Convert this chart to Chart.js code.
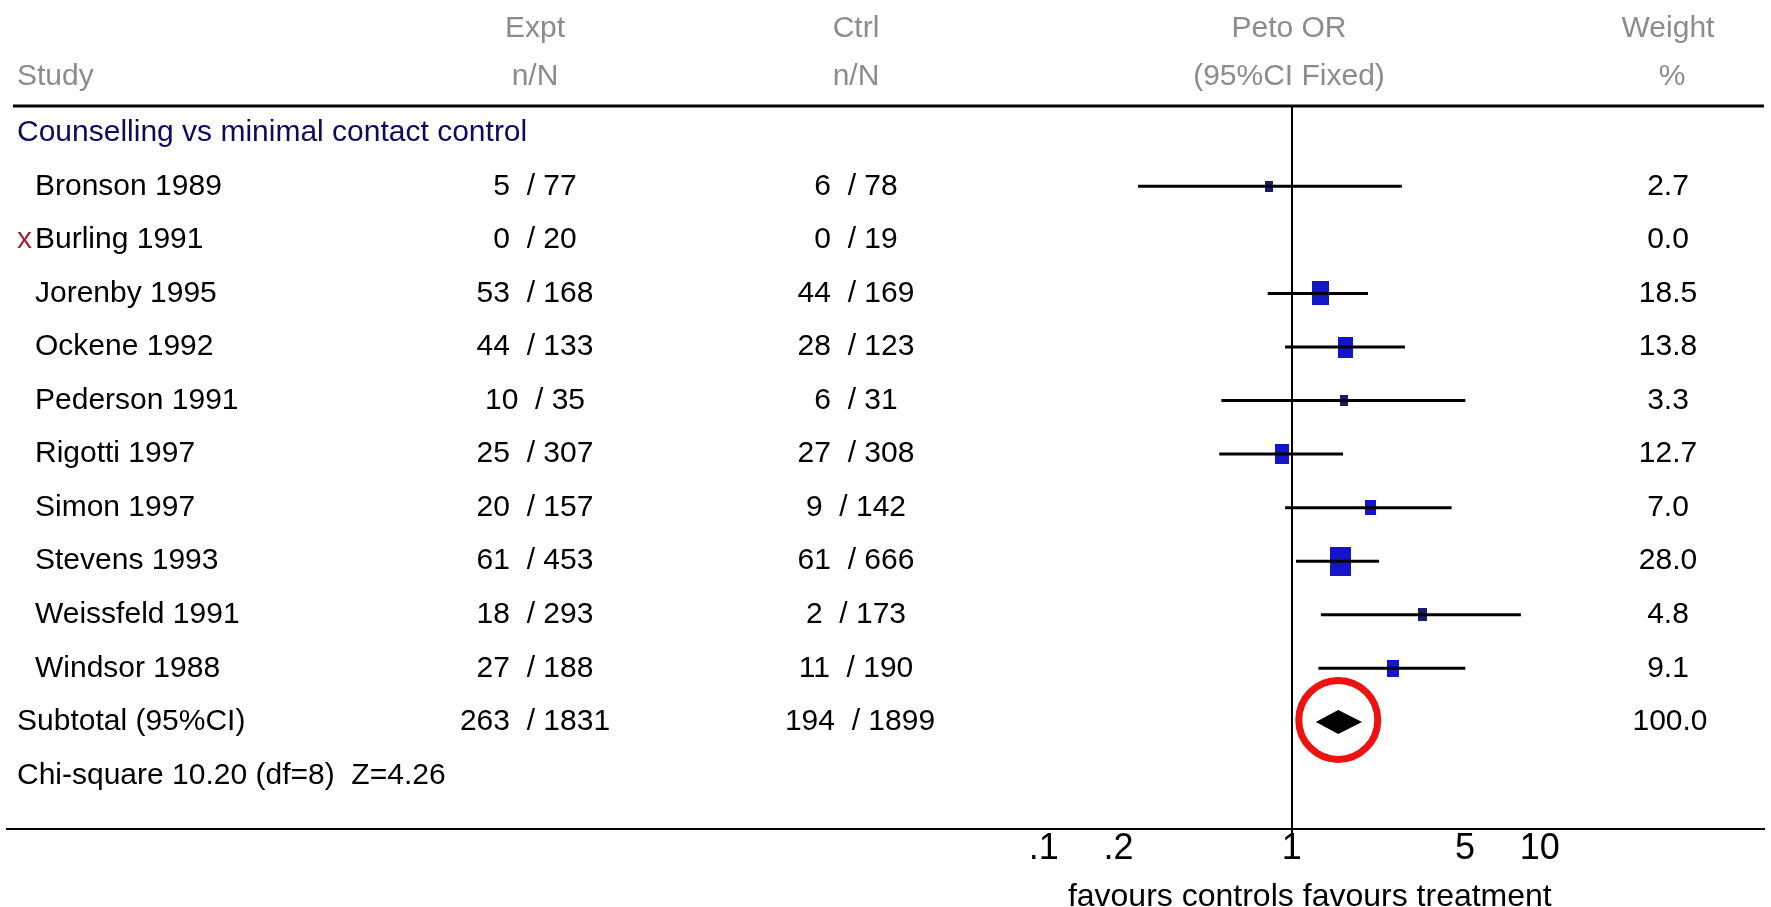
<!DOCTYPE html>
<html lang="en">
<head>
<meta charset="utf-8">
<title>Counselling vs minimal contact control</title>
<script src="https://cdn.jsdelivr.net/npm/chart.js@4.4.1/dist/chart.umd.min.js"></script>
<style>
  html, body { margin: 0; padding: 0; background: #fff; }
  #forestChart { display: block; }
</style>
</head>
<body>
<canvas id="forestChart" width="1771" height="907"></canvas>
<script>
// Données
const groupTitle = "Counselling vs minimal contact control";
const studies = ["Bronson 1989", "Burling 1991", "Jorenby 1995", "Ockene 1992", "Pederson 1991",
  "Rigotti 1997", "Simon 1997", "Stevens 1993", "Weissfeld 1991", "Windsor 1988"];
const excluded = [false, true, false, false, false, false, false, false, false, false];
const exptEvents = [5, 0, 53, 44, 10, 25, 20, 61, 18, 27];
const exptTotal = [77, 20, 168, 133, 35, 307, 157, 453, 293, 188];
const ctrlEvents = [6, 0, 44, 28, 6, 27, 9, 61, 2, 11];
const ctrlTotal = [78, 19, 169, 123, 31, 308, 142, 666, 173, 190];
const oddsRatio = [0.81, null, 1.31, 1.64, 1.63, 0.91, 2.07, 1.57, 3.37, 2.56];
const ciLower = [0.24, null, 0.80, 0.94, 0.52, 0.51, 0.94, 1.04, 1.31, 1.28];
const ciUpper = [2.78, null, 2.03, 2.86, 5.01, 1.61, 4.41, 2.25, 8.39, 5.01];
const weights = [2.7, 0.0, 18.5, 13.8, 3.3, 12.7, 7.0, 28.0, 4.8, 9.1];

const pooledOR = 1.54;
const pooledLower = 1.25;
const pooledUpper = 1.92;
const pooledExpt = [263, 1831];
const pooledCtrl = [194, 1899];
const pooledWeight = 100.0;
const heterogeneityText = "Chi-square 10.20 (df=8)  Z=4.26";

const xTicks = [0.1, 0.2, 1, 5, 10];
const xTickLabels = [".1", ".2", "1", "5", "10"];

document.addEventListener("DOMContentLoaded", function () {
  const subtotalRow = studies.length + 1;
  const chiRow = studies.length + 2;
  const tableFont = '30px "Liberation Sans", Arial, sans-serif';

  // Carrés proportionnels au poids
  function makeBox(weight) {
    const w = Math.max(8, Math.round(4 * Math.sqrt(weight)));
    const h = Math.round(w * 1.4);
    const c = document.createElement("canvas");
    c.width = w;
    c.height = h;
    const g = c.getContext("2d");
    g.fillStyle = w < 10 ? "#1c1c6e" : "#1414c8";
    g.fillRect(0, 0, w, h);
    return c;
  }

  const boxPoints = [];
  const boxStyles = [];
  const whiskerSets = [];
  studies.forEach((name, i) => {
    if (oddsRatio[i] == null) return;
    boxPoints.push({ x: oddsRatio[i], y: i + 1 });
    boxStyles.push(makeBox(weights[i]));
    whiskerSets.push({
      type: "line",
      data: [{ x: ciLower[i], y: i + 1 }, { x: ciUpper[i], y: i + 1 }],
      borderColor: "#000",
      borderWidth: 3,
      pointRadius: 0,
      showLine: true,
    });
  });

  // Textes du tableau, losange et cercle
  const forestTable = {
    id: "forestTable",
    afterDraw(chart) {
      const { ctx, chartArea, scales: { x, y } } = chart;
      ctx.save();

      ctx.strokeStyle = "#000";
      ctx.lineWidth = 3;
      ctx.beginPath();
      ctx.moveTo(13, chartArea.top);
      ctx.lineTo(chartArea.right, chartArea.top);
      ctx.stroke();

      ctx.font = tableFont;
      ctx.textBaseline = "middle";

      const h1 = y.getPixelForValue(-1.95);
      const h2 = y.getPixelForValue(-1.05);
      ctx.fillStyle = "#8c8c8c";
      ctx.textAlign = "left";
      ctx.fillText("Study", 17, h2);
      ctx.textAlign = "center";
      ctx.fillText("Expt", 535, h1);
      ctx.fillText("n/N", 535, h2);
      ctx.fillText("Ctrl", 856, h1);
      ctx.fillText("n/N", 856, h2);
      ctx.fillText("Peto OR", 1289, h1);
      ctx.fillText("(95%CI Fixed)", 1289, h2);
      ctx.fillText("Weight", 1668, h1);
      ctx.fillText("%", 1672, h2);

      ctx.textAlign = "left";
      ctx.fillStyle = "#0c0c5c";
      ctx.fillText(groupTitle, 17, y.getPixelForValue(0));

      studies.forEach((name, i) => {
        const py = y.getPixelForValue(i + 1);
        ctx.textAlign = "left";
        if (excluded[i]) {
          ctx.fillStyle = "#9a2a3a";
          ctx.fillText("x", 17, py);
        }
        ctx.fillStyle = "#000";
        ctx.fillText(name, 35, py);
        ctx.textAlign = "center";
        ctx.fillText(exptEvents[i] + "  / " + exptTotal[i], 535, py);
        ctx.fillText(ctrlEvents[i] + "  / " + ctrlTotal[i], 856, py);
        ctx.fillText(weights[i].toFixed(1), 1668, py);
      });

      const sy = y.getPixelForValue(subtotalRow);
      ctx.fillStyle = "#000";
      ctx.textAlign = "left";
      ctx.fillText("Subtotal (95%CI)", 17, sy);
      ctx.fillText(heterogeneityText, 17, y.getPixelForValue(chiRow));
      ctx.textAlign = "center";
      ctx.fillText(pooledExpt[0] + "  / " + pooledExpt[1], 535, sy);
      ctx.fillText(pooledCtrl[0] + "  / " + pooledCtrl[1], 860, sy);
      ctx.fillText(pooledWeight.toFixed(1), 1670, sy);

      // losange du résultat combiné
      const x0 = x.getPixelForValue(pooledLower);
      const xm = x.getPixelForValue(pooledOR);
      const x1 = x.getPixelForValue(pooledUpper);
      ctx.fillStyle = "#000";
      ctx.beginPath();
      ctx.moveTo(x0, sy);
      ctx.lineTo(xm, sy - 12);
      ctx.lineTo(x1, sy);
      ctx.lineTo(xm, sy + 12);
      ctx.closePath();
      ctx.fill();

      ctx.strokeStyle = "#ee1111";
      ctx.lineWidth = 7;
      ctx.beginPath();
      ctx.arc(xm, sy - 2, 39.5, 0, Math.PI * 2);
      ctx.stroke();

      // légende sous l'axe
      const one = x.getPixelForValue(1);
      ctx.font = '32px "Liberation Sans", Arial, sans-serif';
      ctx.fillStyle = "#000";
      ctx.textAlign = "right";
      ctx.fillText("favours controls", one + 2, 897);
      ctx.textAlign = "left";
      ctx.fillText("favours treatment", one + 11, 897);

      ctx.restore();
    },
  };

  try {
    const ctx = document.getElementById("forestChart").getContext("2d");
    new Chart(ctx, {
      type: "scatter",
      data: {
        datasets: [
          ...whiskerSets,
          {
            label: "Peto OR",
            data: boxPoints,
            pointStyle: (c) => boxStyles[c.dataIndex],
            pointRadius: 6,
          },
        ],
      },
      options: {
        responsive: false,
        devicePixelRatio: 1,
        animation: false,
        layout: { padding: { top: 106, left: 0, right: 0, bottom: 0 } },
        plugins: { legend: { display: false }, tooltip: { enabled: false } },
        scales: {
          x: {
            type: "logarithmic",
            min: 6.6e-6,
            max: 80.2,
            afterBuildTicks: (scale) => {
              scale.ticks = xTicks.map((v) => ({ value: v }));
            },
            afterFit: (scale) => {
              scale.height = 78;
            },
            ticks: {
              autoSkip: false,
              maxRotation: 0,
              padding: -6,
              color: "#000",
              font: { family: '"Liberation Sans", Arial, sans-serif', size: 36, lineHeight: 1 },
              callback: (value, index) => xTickLabels[index],
            },
            grid: {
              color: (c) => (c.tick && c.tick.value === 1 ? "#000" : "rgba(0,0,0,0)"),
              tickColor: (c) => (c.tick && c.tick.value === 1 ? "#000" : "rgba(0,0,0,0)"),
              lineWidth: 2,
              tickLength: 8,
            },
            border: { display: true, color: "#000", width: 2 },
          },
          y: {
            type: "linear",
            reverse: true,
            min: -0.5,
            max: chiRow + 1,
            display: false,
          },
        },
      },
      plugins: [forestTable],
    });
  } catch (error) {
    console.error("Erreur lors de la création du graphique :", error);
  }
});
</script>
</body>
</html>
